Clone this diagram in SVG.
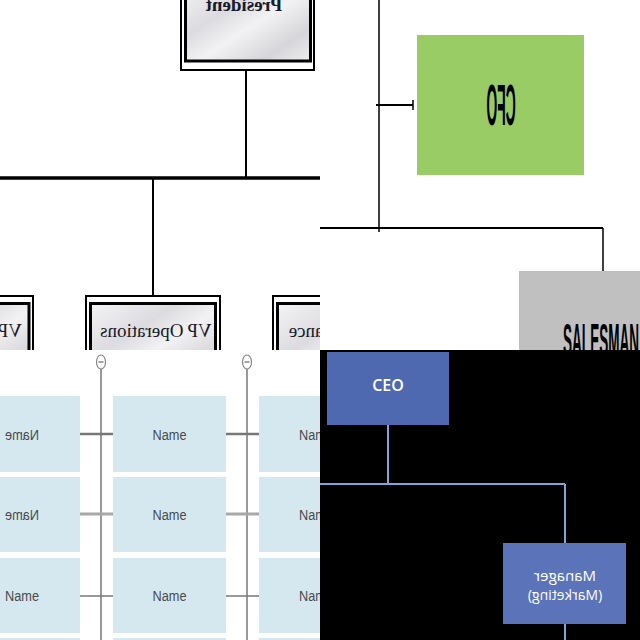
<svg xmlns="http://www.w3.org/2000/svg" width="640" height="640" viewBox="0 0 640 640">
<defs>
<style>
.ln{stroke:#000;fill:none}
.mar{fill:url(#marble)}
.frameO{fill:#fff;stroke:#000;stroke-width:2}
.frameI{stroke:#000;stroke-width:3}
.vp{font-family:"Liberation Serif","DejaVu Serif",serif;font-size:19px;fill:#1a1a2a;text-anchor:middle}
.nm{fill:#d5e8f0}
.nmt{font-family:"Liberation Sans","Arial",sans-serif;font-size:15px;fill:#4a4a4a;text-anchor:middle}
.tree{stroke:#777;fill:none}
.blue{stroke:#7ea6d8;stroke-width:2;fill:none}
.wt{font-family:"Open Sans","Liberation Sans",sans-serif;fill:#fff;text-anchor:middle}
</style>
<linearGradient id="marble" x1="0" y1="0" x2="1" y2="1">
<stop offset="0" stop-color="#f4f4f6"/>
<stop offset="0.35" stop-color="#dcdce0"/>
<stop offset="0.55" stop-color="#f2f2f4"/>
<stop offset="0.8" stop-color="#d6d6da"/>
<stop offset="1" stop-color="#eeeef0"/>
</linearGradient>
<clipPath id="q1"><rect x="0" y="0" width="320" height="350"/></clipPath>
<clipPath id="q2"><rect x="320" y="0" width="320" height="350"/></clipPath>
<clipPath id="q3"><rect x="0" y="350" width="320" height="290"/></clipPath>
<clipPath id="q4"><rect x="320" y="350" width="320" height="290"/></clipPath>
</defs>

<rect x="0" y="0" width="640" height="640" fill="#fff"/>

<!-- Quadrant 1 -->
<g clip-path="url(#q1)">
<g id="connectors-q1">
<line class="ln" x1="246" y1="70" x2="246" y2="178" stroke-width="2"/>
<line class="ln" x1="0" y1="178" x2="320" y2="178" stroke-width="3.5"/>
<line class="ln" x1="153" y1="178" x2="153" y2="296" stroke-width="2"/>
</g>
<g id="president">
<rect class="frameO" x="181" y="-20" width="133" height="90"/>
<rect class="mar frameI" x="185.5" y="-20" width="125" height="81"/>
<text class="vp" transform="translate(244,11) scale(-1,1)" font-size="21" font-weight="bold">President</text>
</g>
<g id="vp-left">
<rect class="frameO" x="-100" y="296" width="133" height="90"/>
<rect class="mar frameI" x="-96" y="303.5" width="125" height="80"/>
<text class="vp" transform="translate(22,337) scale(-1,1)" style="text-anchor:start">VP Marketing</text>
</g>
<g id="vp-operations">
<rect class="frameO" x="86" y="296" width="134" height="90"/>
<rect class="mar frameI" x="90.5" y="303.5" width="125" height="80"/>
<text class="vp" transform="translate(156,337) scale(-1,1)">VP Operations</text>
</g>
<g id="vp-finance">
<rect class="frameO" x="273" y="296" width="134" height="90"/>
<rect class="mar frameI" x="277.5" y="303.5" width="125" height="80"/>
<text class="vp" transform="translate(333,337) scale(-1,1)">VP Finance</text>
</g>
</g>

<!-- Quadrant 2 -->
<g clip-path="url(#q2)">
<g id="connectors-q2">
<line class="ln" x1="379" y1="0" x2="379" y2="232" stroke-width="1.5"/>
<line class="ln" x1="376" y1="105" x2="413" y2="105" stroke-width="2"/>
<line class="ln" x1="413" y1="100" x2="413" y2="110" stroke-width="1.5"/>
<line class="ln" x1="320" y1="228" x2="603" y2="228" stroke-width="2"/>
<line class="ln" x1="603" y1="228" x2="603" y2="271" stroke-width="1.5"/>
</g>
<g id="cfo">
<rect x="417" y="35" width="167" height="140" fill="#9acc66"/>
<text transform="translate(501,125) scale(-0.24,1)" font-family="Liberation Sans,Arial,sans-serif" font-weight="bold" font-size="58" text-anchor="middle" fill="#000">CFO</text>
</g>
<g id="salesman">
<rect x="519" y="271" width="140" height="90" fill="#c0c0c0"/>
<text transform="translate(563,356) scale(0.295,1)" font-family="Liberation Sans,Arial,sans-serif" font-weight="bold" font-size="46" fill="#000">SALESMAN</text>
</g>
</g>

<!-- Quadrant 3 -->
<g clip-path="url(#q3)">
<g id="connectors-q3">
<line class="tree" x1="101" y1="369" x2="101" y2="640" stroke-width="1.5"/>
<line class="tree" x1="247" y1="369" x2="247" y2="640" stroke-width="1.5"/>
<line class="tree" x1="80" y1="434" x2="113" y2="434" stroke-width="2.5"/>
<line class="tree" x1="226" y1="434" x2="259" y2="434" stroke-width="2.5"/>
<line x1="80" y1="514" x2="113" y2="514" stroke="#a8a8a8" stroke-width="3"/>
<line x1="226" y1="514" x2="259" y2="514" stroke="#a8a8a8" stroke-width="3"/>
<line class="tree" x1="80" y1="596" x2="113" y2="596" stroke-width="1.5"/>
<line class="tree" x1="226" y1="596" x2="259" y2="596" stroke-width="1.5"/>
<ellipse cx="101" cy="362" rx="4.5" ry="7" fill="#fff" stroke="#888" stroke-width="1.2"/>
<line x1="98.5" y1="362" x2="103.5" y2="362" stroke="#666" stroke-width="1.2"/>
<ellipse cx="247" cy="362" rx="4.5" ry="7" fill="#fff" stroke="#888" stroke-width="1.2"/>
<line x1="244.5" y1="362" x2="249.5" y2="362" stroke="#666" stroke-width="1.2"/>
</g>
<g id="n-c1r1"><rect class="nm" x="-33" y="396" width="113" height="76"/><text class="nmt" transform="translate(22,440) scale(-0.85,1)">Name</text></g>
<g id="n-c1r2"><rect class="nm" x="-33" y="477" width="113" height="75"/><text class="nmt" transform="translate(22,520) scale(-0.85,1)">Name</text></g>
<g id="n-c1r3"><rect class="nm" x="-33" y="558" width="113" height="75"/><text class="nmt" transform="translate(22,601) scale(0.85,1)">Name</text></g>
<g id="n-c1r4"><rect class="nm" x="-33" y="638" width="113" height="75"/></g>
<g id="n-c2r1"><rect class="nm" x="113" y="396" width="113" height="76"/><text class="nmt" transform="translate(169.5,440) scale(0.85,1)">Name</text></g>
<g id="n-c2r2"><rect class="nm" x="113" y="477" width="113" height="75"/><text class="nmt" transform="translate(169.5,520) scale(0.85,1)">Name</text></g>
<g id="n-c2r3"><rect class="nm" x="113" y="558" width="113" height="75"/><text class="nmt" transform="translate(169.5,601) scale(0.85,1)">Name</text></g>
<g id="n-c2r4"><rect class="nm" x="113" y="638" width="113" height="75"/></g>
<g id="n-c3r1"><rect class="nm" x="259" y="396" width="113" height="76"/><text class="nmt" transform="translate(316,440) scale(0.85,1)">Name</text></g>
<g id="n-c3r2"><rect class="nm" x="259" y="477" width="113" height="75"/><text class="nmt" transform="translate(316,520) scale(0.85,1)">Name</text></g>
<g id="n-c3r3"><rect class="nm" x="259" y="558" width="113" height="75"/><text class="nmt" transform="translate(316,601) scale(0.85,1)">Name</text></g>
<g id="n-c3r4"><rect class="nm" x="259" y="638" width="113" height="75"/></g>
</g>

<!-- Quadrant 4 -->
<g clip-path="url(#q4)">
<rect x="320" y="350" width="320" height="290" fill="#000"/>
<g id="connectors-q4">
<line class="blue" x1="388" y1="425" x2="388" y2="484"/>
<line class="blue" x1="320" y1="484" x2="565" y2="484"/>
<line class="blue" x1="565" y1="484" x2="565" y2="543"/>
<line class="blue" x1="565" y1="624" x2="565" y2="640"/>
</g>
<g id="ceo">
<rect x="327" y="352" width="122" height="73" fill="#4f69b1"/>
<text class="wt" x="388" y="391" font-size="16" font-weight="600">CEO</text>
</g>
<g id="manager">
<rect x="503" y="543" width="123" height="81" fill="#5a73b9"/>
<text class="wt" transform="translate(565,581) scale(-1,1)" font-size="15">Manager</text>
<text class="wt" transform="translate(565,600) scale(-1,1)" font-size="14">(Marketing)</text>
</g>
</g>
</svg>
